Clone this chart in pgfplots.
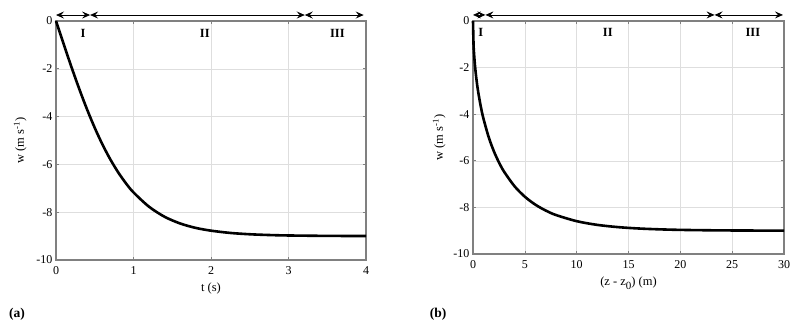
\documentclass[border=0pt]{standalone}
\usepackage{fontspec}
\setmainfont{Liberation Serif}
\usepackage{pgfplots}
\pgfplotsset{compat=1.18}
\usetikzlibrary{arrows.meta}

\pgfplotsset{
    fallplot/.style={
        scale only axis,
        anchor=south west,
        axis line style={draw=black!50, line width=1.1pt},
        grid=major,
        major grid style={draw=black!13, line width=0.5pt},
        tick style={draw=black!50, line width=0.6pt},
        tick align=inside,
        major tick length=3pt,
        ymin=-10, ymax=0,
        ytick={-10,-8,-6,-4,-2,0},
        tick label style={font=\fontsize{12}{14}\selectfont},
        xticklabel style={yshift=-3pt},
        label style={font=\fontsize{12.5}{14}\selectfont},
        /pgf/number format/assume math mode=true,
        clip=false,
    },
}
\tikzset{
    stage/.style={{Stealth[length=8pt,width=7pt,inset=3pt]}-{Stealth[length=8pt,width=7pt,inset=3pt]}, line width=0.8pt},
    roman/.style={font=\fontsize{12.5}{14}\selectfont\bfseries},
}

\begin{document}
\begin{tikzpicture}
\path (0pt,0pt) rectangle (800pt,329pt);

% (a) velocity against time
\begin{axis}[fallplot,
    at={(56pt,69pt)}, width=310pt, height=239pt,
    xmin=0, xmax=4, xtick={0,1,2,3,4},
    xlabel={t (s)},
    ylabel={w (m s\textsuperscript{-1})},
    xlabel style={yshift=-1pt},
    ylabel style={yshift=3pt},
]
\addplot[black, line width=2.6pt, smooth] coordinates {
    (0,0) (0.1,-0.977) (0.2,-1.931) (0.3,-2.842) (0.4,-3.693)
    (0.5,-4.471) (0.6,-5.170) (0.7,-5.785) (0.8,-6.320) (0.9,-6.780)
    (1.0,-7.172) (1.2,-7.770) (1.4,-8.189) (1.6,-8.470) (1.8,-8.655)
    (2.0,-8.773) (2.25,-8.868) (2.5,-8.923) (2.75,-8.955) (3.0,-8.974)
    (3.5,-8.991) (4.0,-8.997)
};
\draw[stage] (axis cs:0,0.25) -- (axis cs:0.44,0.25);
\draw[stage] (axis cs:0.44,0.25) -- (axis cs:3.21,0.25);
\draw[stage] (axis cs:3.21,0.25) -- (axis cs:3.97,0.25);
\node[roman] at (axis cs:0.35,-0.5) {I};
\node[roman] at (axis cs:1.92,-0.5) {II};
\node[roman] at (axis cs:3.63,-0.5) {III};
\end{axis}
\node[font=\fontsize{13.5}{15}\selectfont\bfseries] at (17pt,15pt) {(a)};

% (b) velocity against fall distance
\begin{axis}[fallplot,
    at={(473pt,75pt)}, width=311pt, height=233pt,
    xmin=0, xmax=30, xtick={0,5,10,15,20,25,30},
    xlabel={(z - z\raisebox{-4.5pt}{\fontsize{11}{12}\selectfont 0}) (m)},
    ylabel={w (m s\textsuperscript{-1})},
    xlabel style={yshift=-1pt},
    ylabel style={yshift=1pt},
]
\addplot[black, line width=2.6pt, smooth] coordinates {
    (0,0) (0.05,-0.987) (0.1,-1.392) (0.2,-1.957) (0.35,-2.566)
    (0.5,-3.040) (0.75,-3.668) (1,-4.174) (1.5,-4.967) (2,-5.577)
    (2.5,-6.066) (3,-6.468) (4,-7.089) (5,-7.541) (6,-7.878)
    (7,-8.132) (8,-8.327) (10,-8.591) (12,-8.751) (14,-8.847)
    (16,-8.906) (18,-8.942) (20,-8.965) (23,-8.983) (26,-8.992)
    (30,-8.997)
};
\draw[stage] (axis cs:0,0.26) -- (axis cs:1.2,0.26);
\draw[stage] (axis cs:1.2,0.26) -- (axis cs:23.3,0.26);
\draw[stage] (axis cs:23.3,0.26) -- (axis cs:29.9,0.26);
\node[roman] at (axis cs:0.75,-0.5) {I};
\node[roman] at (axis cs:13,-0.5) {II};
\node[roman] at (axis cs:27,-0.5) {III};
\end{axis}
\node[font=\fontsize{13.5}{15}\selectfont\bfseries] at (438pt,15pt) {(b)};
\end{tikzpicture}
\end{document}
